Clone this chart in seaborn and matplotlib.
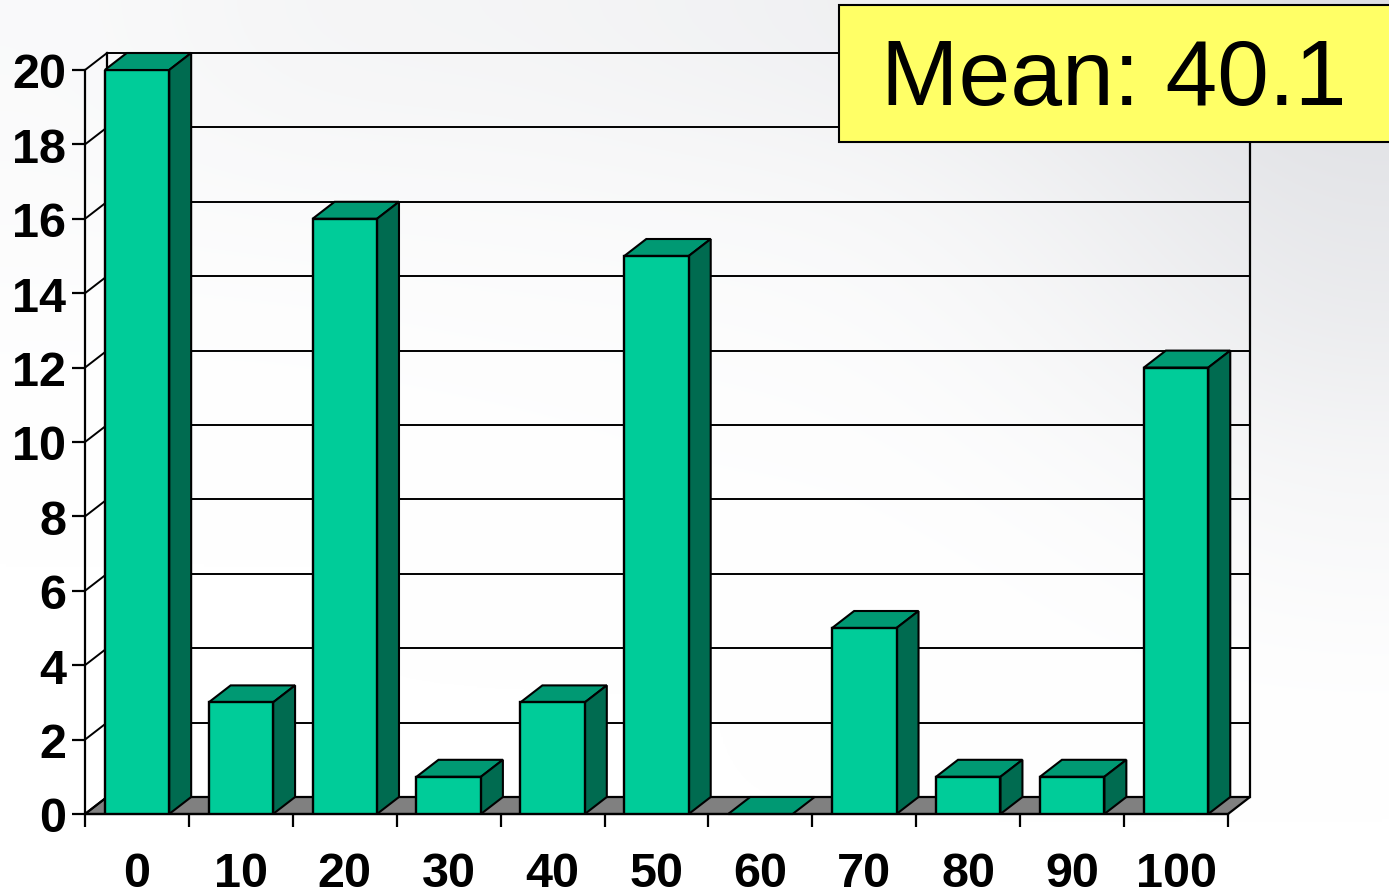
import numpy as np
import pandas as pd
import matplotlib
matplotlib.use("Agg")
import matplotlib.pyplot as plt
from matplotlib.patches import Polygon, Rectangle
from matplotlib.lines import Line2D
import seaborn as sns

categories = ["0", "10", "20", "30", "40", "50", "60", "70", "80", "90", "100"]
counts = [20, 3, 16, 1, 3, 15, 0, 5, 1, 1, 12]
y_ticks = list(range(0, 21, 2))
callout = "Mean: 40.1"

FRONT, TOP, SIDE = "#00CC99", "#009973", "#006B50"
FLOOR, YELLOW = "#808080", "#FFFF66"

W, H = 1389, 895
sns.set_theme(style="white")
plt.rcParams["font.family"] = ["Liberation Sans", "DejaVu Sans"]
fig = plt.figure(figsize=(W / 100, H / 100), dpi=100)
fig.patch.set_facecolor("white")

# soft slide backdrop
bg = fig.add_axes([0, 0, 1, 1], zorder=-1)
shade = np.array([
    [0.98, 0.96, 0.96, 0.95, 0.94, 0.91, 0.87],
    [0.985, 0.98, 0.98, 0.975, 0.97, 0.94, 0.90],
    [0.995, 0.995, 0.99, 0.99, 0.985, 0.96, 0.92],
    [1.00, 1.00, 1.00, 0.995, 0.995, 0.98, 0.96],
    [1.00, 1.00, 1.00, 1.00, 1.00, 0.995, 0.98],
    [1.00, 1.00, 1.00, 1.00, 1.00, 1.00, 1.00],
    [1.00, 1.00, 1.00, 1.00, 1.00, 1.00, 1.00],
])
rgb = np.dstack([shade, shade + (1 - shade) * 0.03, shade + (1 - shade) * 0.15])
bg.imshow(np.clip(rgb, 0, 1), aspect="auto", interpolation="bicubic", extent=[0, 1, 0, 1])
bg.axis("off")

left, right, bottom, top = 85, 1228, 815, 71
ax = fig.add_axes([left / W, 1 - bottom / H, (right - left) / W, (bottom - top) / H])
ax.patch.set_alpha(0)

df = pd.DataFrame({"score": categories, "count": counts})
sns.barplot(data=df, x="score", y="count", order=categories, color=FRONT, saturation=1,
            width=0.62, edgecolor="black", linewidth=1.7, ax=ax, zorder=5)
ax.set_xlim(-0.5, len(categories) - 0.5)
ax.set_ylim(0, 20)
ax.set_xlabel("")
ax.set_ylabel("")

dx = 22 / ((right - left) / len(categories))
dy = 17 / ((bottom - top) / 20)
x0, x1 = ax.get_xlim()
lw = 1.6

def seg(xs, ys, z=1, c="black", w=lw):
    ax.add_line(Line2D(xs, ys, color=c, lw=w, clip_on=False, zorder=z, solid_capstyle="projecting"))

# floor and walls
ax.add_patch(Polygon([(x0, 0), (x1, 0), (x1 + dx, dy), (x0 + dx, dy)], closed=True,
                     facecolor=FLOOR, edgecolor="black", lw=lw, clip_on=False, zorder=1))
for t in y_ticks:
    seg([x0 + dx, x1 + dx], [t + dy, t + dy], 1, w=1.4)
    seg([x0, x0 + dx], [t, t + dy], 1, w=1.4)
seg([x0 + dx, x0 + dx], [dy, 20 + dy], 1)
seg([x1 + dx, x1 + dx], [dy, 20 + dy], 1)
seg([x0, x0], [0, 20], 2)
seg([x0, x1], [0, 0], 2)

# depth faces of each bar
for patch in ax.patches:
    if not isinstance(patch, Rectangle) or patch.get_width() > 1:
        continue
    a, b = patch.get_x(), patch.get_x() + patch.get_width()
    h = patch.get_height()
    ax.add_patch(Polygon([(a, h), (b, h), (b + dx, h + dy), (a + dx, h + dy)], closed=True,
                         facecolor=TOP, edgecolor="black", lw=1.5, clip_on=False, zorder=4))
    if h > 0:
        ax.add_patch(Polygon([(b, 0), (b, h), (b + dx, h + dy), (b + dx, dy)], closed=True,
                             facecolor=SIDE, edgecolor="black", lw=1.5, clip_on=False, zorder=4))

ax.set_yticks(y_ticks)
ax.set_yticklabels([str(t) for t in y_ticks], fontsize=35, fontweight="bold", color="black")
ax.set_xticks(range(len(categories)))
ax.set_xticklabels(categories, fontsize=35, fontweight="bold", color="black")
ax.set_xticks(np.arange(x0, x1 + 0.01), minor=True)
ax.tick_params(axis="y", which="major", length=9.4, width=lw, color="black", pad=4, left=True)
ax.tick_params(axis="x", which="major", length=0, pad=27, bottom=False)
ax.tick_params(axis="x", which="minor", length=9.4, width=lw, color="black", bottom=True)
for s in ax.spines.values():
    s.set_visible(False)

# callout
ax.add_patch(Rectangle((838.5 / W, 1 - 143 / H), 600 / W, 137 / H, transform=fig.transFigure,
                       facecolor=YELLOW, edgecolor="black", lw=1.5, clip_on=False, zorder=10))
ax.text(1114 / W, 1 - 81 / H, callout, transform=fig.transFigure, ha="center", va="center",
        fontsize=67, color="black", zorder=11)

fig.savefig("out.png", dpi=100)
